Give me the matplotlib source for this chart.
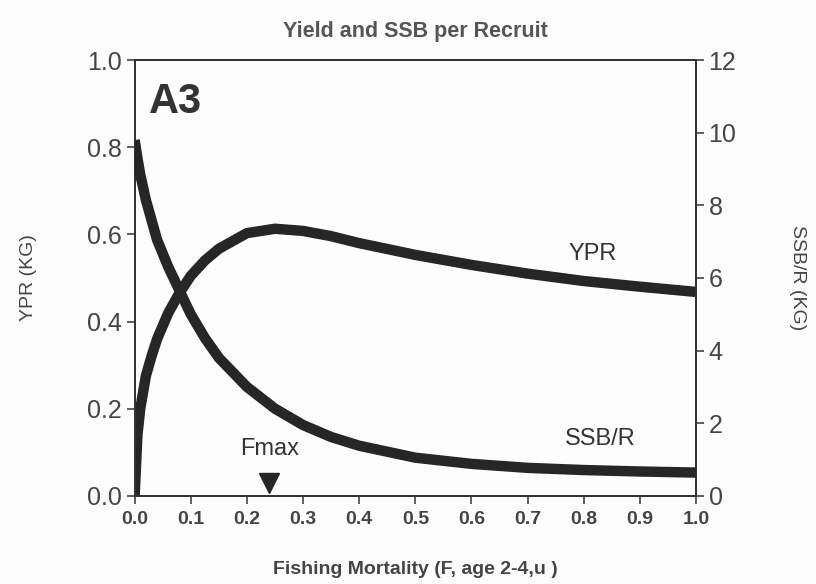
import matplotlib.pyplot as plt
import numpy as np

plt.rcParams['font.family'] = ['Liberation Sans', 'DejaVu Sans']

# fishing mortality grid
F = [0.0, 0.005, 0.01, 0.02, 0.03, 0.04, 0.06, 0.08, 0.1, 0.125, 0.15,
     0.2, 0.25, 0.3, 0.35, 0.4, 0.5, 0.6, 0.7, 0.8, 0.9, 1.0]
# yield per recruit (left axis, kg)
ypr = [0.0, 0.14, 0.2, 0.275, 0.32, 0.36, 0.42, 0.466, 0.505, 0.54, 0.567,
       0.603, 0.613, 0.608, 0.596, 0.58, 0.553, 0.53, 0.51, 0.493, 0.48, 0.468]
# spawning stock biomass per recruit (right axis, kg)
ssb = [9.8, 9.3, 8.85, 8.15, 7.6, 7.05, 6.3, 5.65, 5.0, 4.35, 3.8,
       3.0, 2.4, 1.95, 1.62, 1.38, 1.05, 0.88, 0.77, 0.71, 0.67, 0.64]

f_max = 0.24
txt = '#444444'
line = '#262626'

fig = plt.figure(figsize=(8.16, 5.84), dpi=100)
fig.patch.set_facecolor('#fdfdfd')
ax = fig.add_axes([0.165, 0.151, 0.688, 0.746])
ax.set_facecolor('#fdfdfd')
ax2 = ax.twinx()

ax.plot(F, ypr, color=line, lw=7.5, solid_capstyle='butt',
        solid_joinstyle='round', zorder=3)
ax2.plot(F, ssb, color=line, lw=7.5, solid_capstyle='butt',
         solid_joinstyle='round', zorder=3)

ax.set_xlim(0, 1.0)
ax.set_ylim(0, 1.0)
ax2.set_ylim(0, 12)
ax.set_xticks(np.arange(0, 1.01, 0.1))
ax.set_yticks(np.arange(0, 1.01, 0.2))
ax2.set_yticks(range(0, 13, 2))
ax.set_xticklabels([f'{v:.1f}' for v in np.arange(0, 1.01, 0.1)])
ax.set_yticklabels([f'{v:.1f}' for v in np.arange(0, 1.01, 0.2)])

for a in (ax, ax2):
    for s in a.spines.values():
        s.set_color('#333333')
        s.set_linewidth(1.3)
ax.tick_params(axis='y', labelsize=18, colors=txt, length=6, width=1.2, pad=3)
ax.tick_params(axis='x', labelsize=14, colors=txt, length=6, width=1.2, pad=5)
ax2.tick_params(axis='y', labelsize=18, colors=txt, length=6, width=1.2, pad=3)
for lab in ax.get_xticklabels():
    lab.set_fontweight('bold')

ax.set_title('Yield and SSB per Recruit', fontsize=15.5, fontweight='bold',
             color='#555555', pad=17)
ax.set_xlabel('Fishing Mortality (F, age 2-4,u )', fontsize=14,
              fontweight='bold', color=txt, labelpad=24)
ax.set_ylabel('YPR (KG)', fontsize=14, color=txt, labelpad=36)
ax2.set_ylabel('SSB/R (KG)', fontsize=14, color=txt, rotation=-90, labelpad=50)

ax.text(0.025, 0.905, 'A3', fontsize=30, fontweight='bold', color='#333333',
        va='center', ha='left')
ax.text(0.815, 0.555, 'YPR', fontsize=17, color='#333333', ha='center', va='center')
ax.text(0.83, 0.13, 'SSB/R', fontsize=17, color='#333333', ha='center', va='center')
ax.text(f_max, 0.108, 'Fmax', fontsize=17, color='#333333', ha='center', va='center')
ax.plot([f_max], [0.03], marker='v', markersize=14, color=line,
        clip_on=False, zorder=4)

fig.savefig('out.png', dpi=100, facecolor=fig.get_facecolor())
